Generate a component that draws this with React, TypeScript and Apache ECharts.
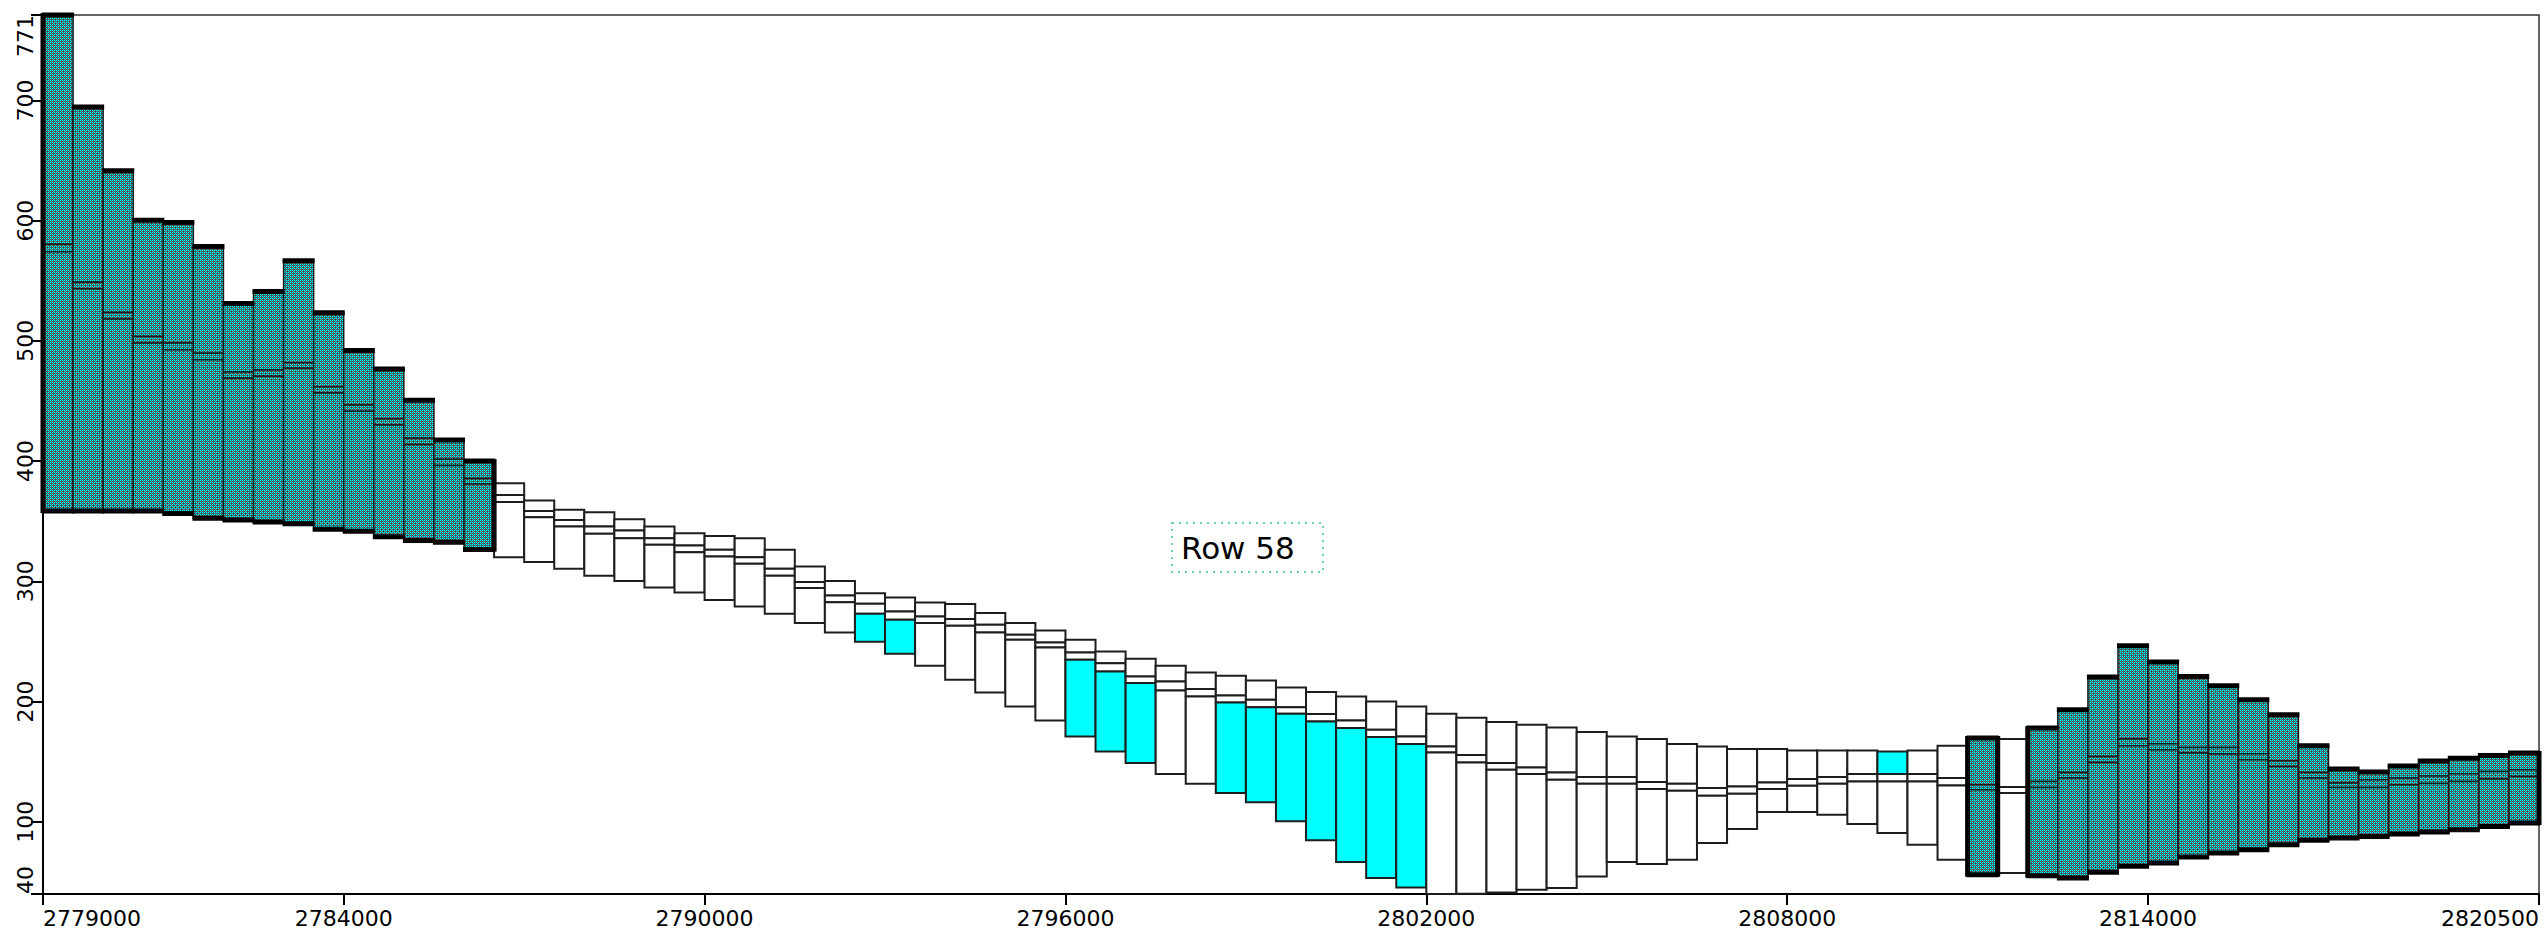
import React, { useEffect, useRef } from "react";
import * as echarts from "echarts";

// ---- axis definitions ----
const X_MIN = 2779000;
const X_MAX = 2820500;
const CELL = 500;
const Y_MIN = 40;
const Y_MAX = 771;
const xTickValues = [2779000, 2784000, 2790000, 2796000, 2802000, 2808000, 2814000, 2820500];
const yTickValues = [40, 100, 200, 300, 400, 500, 600, 700, 771];

// ---- grid row 58: per column elevations ----
const topElev = [
  771, 694.5, 641.4, 600.3, 598.5, 578.5, 531.0, 541.1, 566.6, 523.3, 492.0, 476.7, 450.6, 417.5, 400.0,
  381.6, 367.2, 359.5, 357.5, 351.7, 345.6, 340.1, 337.8, 335.9, 326.2, 312.3, 300.4, 290.2, 286.5, 282.4,
  281.1, 273.6, 265.3, 259.1, 251.4, 241.7, 235.6, 229.8, 224.2, 221.5, 217.6, 211.7, 207.9, 204.3, 200.1,
  196.0, 189.9, 186.5, 183.0, 180.7, 178.5, 174.7, 171.0, 168.8, 164.7, 162.7, 160.5, 160.5, 159.4, 159.4,
  159.4, 158.5, 159.4, 163.3, 169.7, 168.8, 178.0, 193.2, 220.4, 246.4, 232.9, 220.9, 213.2, 201.5, 189.0,
  163.3, 143.9, 141.5, 146.5, 150.6, 152.8, 155.2, 157.2,
];
const layer1Bottom = [
  580.4, 548.8, 523.6, 503.7, 498.2, 489.6, 474.2, 475.8, 481.9, 461.9, 446.6, 435.3, 419.0, 401.5, 385.6,
  371.9, 358.6, 351.1, 345.6, 342.3, 335.9, 329.8, 326.2, 320.1, 310.4, 299.4, 288.2, 281.3, 274.9, 270.8,
  268.8, 263.9, 255.6, 249.2, 240.8, 232.0, 220.9, 216.8, 210.4, 205.1, 201.5, 195.4, 189.6, 184.3, 176.6,
  171.0, 162.7, 155.5, 148.9, 145.2, 141.1, 137.3, 137.3, 133.1, 131.7, 128.1, 129.5, 132.8, 135.6, 137.3,
  139.8, 139.8, 139.8, 136.4, 130.9, 128.9, 133.6, 141.1, 154.4, 168.8, 164.9, 161.9, 161.9, 156.6, 150.8,
  141.1, 132.3, 135.0, 136.4, 138.2, 139.9, 141.9, 143.3,
];
const layer2Bottom = [
  574.2, 543.3, 518.1, 498.2, 492.6, 484.4, 469.0, 470.6, 477.3, 456.7, 441.4, 430.1, 413.8, 396.3, 381.0,
  365.9, 353.4, 345.6, 339.5, 335.9, 330.4, 324.3, 320.6, 314.6, 304.6, 294.4, 282.7, 273.0, 268.0, 265.3,
  263.0, 257.5, 251.4, 245.0, 234.8, 225.1, 215.4, 209.3, 204.3, 199.3, 195.4, 189.9, 183.5, 178.0, 170.5,
  164.7, 157.7, 149.4, 143.3, 139.8, 135.0, 131.7, 131.7, 127.3, 125.9, 121.7, 123.4, 127.3, 130.0, 131.7,
  133.6, 133.6, 133.6, 130.3, 126.7, 123.9, 128.6, 136.4, 149.4, 163.3, 160.0, 157.2, 156.4, 151.6, 146.1,
  136.4, 128.6, 128.6, 130.9, 131.9, 133.6, 135.6, 137.8,
];
const baseElev = [
  358.6, 358.6, 358.6, 358.6, 356.4, 352.5, 351.0, 349.4, 347.9, 343.3, 341.7, 337.1, 334.0, 332.5, 326.4,
  320.1, 316.0, 310.4, 304.6, 300.4, 294.9, 290.7, 284.6, 279.1, 273.0, 265.3, 257.5, 249.7, 239.8, 229.8,
  218.1, 207.6, 196.0, 184.3, 171.0, 158.5, 148.9, 139.8, 131.7, 124.0, 116.2, 100.4, 84.6, 66.6, 53.3,
  45.5, 40.0, 40.3, 41.3, 43.6, 45.0, 54.6, 66.6, 65.0, 68.5, 82.4, 94.0, 108.2, 108.2, 105.9,
  98.2, 90.7, 81.0, 68.5, 56.0, 57.5, 55.2, 53.3, 58.0, 63.0, 65.8, 70.8, 74.1, 76.8, 81.0,
  84.6, 86.6, 87.9, 89.9, 91.5, 93.5, 96.2, 99.0,
];

// ---- cell states ----
const inactiveCols = [
  0, 1, 2, 3, 4, 5, 6, 7, 8, 9, 10, 11, 12, 13, 14,
  64,
  66, 67, 68, 69, 70, 71, 72, 73, 74, 75, 76, 77, 78, 79, 80, 81, 82,
];
const cyanLayer1Cols = [61];
const cyanLayer3Cols = [27, 28, 34, 35, 36, 39, 40, 41, 42, 43, 44, 45];

const annotationText = "Row 58";

function makeHatch() {
  const c = document.createElement("canvas");
  c.width = 4;
  c.height = 4;
  const ctx = c.getContext("2d") as CanvasRenderingContext2D;
  const img = ctx.createImageData(4, 4);
  for (let y = 0; y < 4; y++) {
    for (let x = 0; x < 4; x++) {
      let col = [0, 128, 128];
      if (x % 2 === 0 && y % 2 === 0) col = [0, 255, 255];
      else if (x % 2 === 1 && y % 2 === 1) col = x === y ? [160, 20, 20] : [128, 128, 128];
      const k = (y * 4 + x) * 4;
      img.data[k] = col[0];
      img.data[k + 1] = col[1];
      img.data[k + 2] = col[2];
      img.data[k + 3] = 255;
    }
  }
  ctx.putImageData(img, 0, 0);
  return { image: c, repeat: "repeat" };
}

export default function App() {
  const ref = useRef<HTMLDivElement>(null);

  useEffect(() => {
    const chart = echarts.init(ref.current as HTMLDivElement, null, { renderer: "svg" });
    const hatch: any = makeHatch();
    const inactiveSet = new Set(inactiveCols);
    const cyan1 = new Set(cyanLayer1Cols);
    const cyan3 = new Set(cyanLayer3Cols);
    const nCols = topElev.length;

    const rows = topElev.map((t, i) => [
      X_MIN + i * CELL,
      X_MIN + (i + 1) * CELL,
      t,
      layer1Bottom[i],
      layer2Bottom[i],
      baseElev[i],
      i,
    ]);

    const geom = (api: any) => {
      const a = api.coord([api.value(0), api.value(2)]);
      const b = api.coord([api.value(1), api.value(5)]);
      const m1 = api.coord([api.value(0), api.value(3)])[1];
      const m2 = api.coord([api.value(0), api.value(4)])[1];
      return { l: a[0], r: b[0], t: a[1], b: b[1], m1, m2 };
    };

    const renderCells = (params: any, api: any) => {
      const i = api.value(6);
      const g = geom(api);
      const w = g.r - g.l;
      const inactive = inactiveSet.has(i);
      const fills = inactive
        ? [hatch, hatch, hatch]
        : [cyan1.has(i) ? "#00ffff" : "#ffffff", "#ffffff", cyan3.has(i) ? "#00ffff" : "#ffffff"];
      const stroke = inactive ? "#1a1a1a" : "#1e1e1e";
      const lw = inactive ? 1.5 : 2;
      const ys = [g.t, g.m1, g.m2, g.b];
      const children = [0, 1, 2].map((k) => ({
        type: "rect",
        shape: { x: g.l, y: ys[k], width: w, height: ys[k + 1] - ys[k] },
        style: { fill: fills[k], stroke, lineWidth: lw },
      }));
      return { type: "group", children };
    };

    const renderOutline = (params: any, api: any) => {
      const i = api.value(6);
      if (!inactiveSet.has(i)) return { type: "group", children: [] };
      const g = geom(api);
      const st = { stroke: "#000", lineWidth: 5 };
      const children: any[] = [
        { type: "line", shape: { x1: g.l - 1, y1: g.t, x2: g.r + 1, y2: g.t }, style: st },
        { type: "line", shape: { x1: g.l - 1, y1: g.b, x2: g.r + 1, y2: g.b }, style: st },
      ];
      if (i === 0 || !inactiveSet.has(i - 1)) {
        children.push({ type: "line", shape: { x1: g.l, y1: g.t - 2, x2: g.l, y2: g.b + 2 }, style: st });
      }
      if (i === nCols - 1 || !inactiveSet.has(i + 1)) {
        children.push({ type: "line", shape: { x1: g.r, y1: g.t - 2, x2: g.r, y2: g.b + 2 }, style: st });
      }
      return { type: "group", children };
    };

    const FONT = "'DejaVu Sans', 'Liberation Sans', Arial, sans-serif";
    const labelFont = { fontSize: 22, fontFamily: FONT, color: "#000" };

    const option: any = {
      animation: false,
      backgroundColor: "#ffffff",
      grid: {
        show: true,
        borderColor: "#333",
        borderWidth: 1.5,
        left: 43,
        right: 8,
        top: 15,
        bottom: 43,
        outerBoundsMode: "none",
      },
      xAxis: {
        type: "value",
        min: X_MIN,
        max: X_MAX,
        splitLine: { show: false },
        axisLine: { show: true, lineStyle: { color: "#000", width: 2 } },
        axisTick: { show: true, length: 11, lineStyle: { color: "#000", width: 2 }, customValues: xTickValues },
        axisLabel: {
          ...labelFont,
          customValues: xTickValues,
          margin: 13,
          alignMinLabel: "left",
          alignMaxLabel: "right",
          formatter: (v: number) => String(v),
        },
      },
      yAxis: {
        type: "value",
        min: Y_MIN,
        max: Y_MAX,
        splitLine: { show: false },
        axisLine: { show: true, lineStyle: { color: "#000", width: 2 } },
        axisTick: { show: true, length: 12, lineStyle: { color: "#000", width: 2 }, customValues: yTickValues },
        axisLabel: {
          ...labelFont,
          customValues: yTickValues,
          rotate: 90,
          margin: 7,
          alignMinLabel: "left",
          alignMaxLabel: "right",
          formatter: (v: number) => String(v),
        },
      },
      series: [
        {
          type: "custom",
          name: "cells",
          z: 2,
          clip: false,
          data: rows,
          encode: { x: [0, 1], y: [2, 5] },
          renderItem: renderCells,
        },
        {
          type: "custom",
          name: "inactive outline",
          z: 3,
          clip: false,
          data: rows,
          encode: { x: [0, 1], y: [2, 5] },
          renderItem: renderOutline,
        },
      ],
      graphic: [
        {
          type: "group",
          left: 1171,
          top: 522,
          z: 10,
          children: [
            {
              type: "rect",
              shape: { x: 0, y: 0, width: 151, height: 49 },
              style: { fill: "rgba(0,0,0,0)", stroke: "#6fd49c", lineWidth: 2, lineDash: [2, 5] },
            },
            {
              type: "text",
              x: 9,
              y: 25,
              style: {
                text: annotationText,
                font: "31px " + FONT,
                fill: "#000",
                verticalAlign: "middle",
              },
            },
          ],
        },
      ],
    };

    chart.setOption(option);
    return () => chart.dispose();
  }, []);

  return (
    <div
      ref={ref}
      style={{ position: "absolute", left: 0, top: 0, width: 2547, height: 937, background: "#fff" }}
    />
  );
}
